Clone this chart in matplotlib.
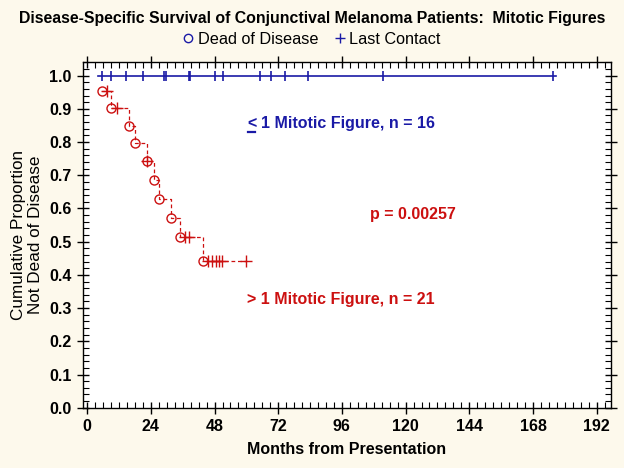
import matplotlib
matplotlib.use("Agg")
import matplotlib.pyplot as plt
from matplotlib.lines import Line2D
from matplotlib.ticker import MultipleLocator
import numpy as np

plt.rcParams['font.family'] = ['Liberation Sans', 'DejaVu Sans']

# ---- data (months) ----
# <=1 mitotic figure: all censored (last contact), survival stays 1.0
low_censor = [5.7, 8.8, 14.8, 21.2, 29.1, 29.6, 38.2, 38.7, 48.2, 51.3,
              65.2, 69.2, 74.4, 83.1, 111.6, 175.4]
low_line_start = 4.1
low_line_end = 176.8

# >1 mitotic figure
high_death = [5.4, 8.9, 15.7, 18.0, 22.4, 25.1, 26.9, 31.4, 34.9, 43.7]
high_censor = [7.3, 11.1, 22.4, 36.8, 38.3, 45.4, 46.9, 48.4, 49.6, 50.7, 59.8]

x_ticks = [0, 24, 48, 72, 96, 120, 144, 168, 192]
y_ticks = [0.0, 0.1, 0.2, 0.3, 0.4, 0.5, 0.6, 0.7, 0.8, 0.9, 1.0]

BLUE = '#1a1aa6'
RED = '#cc1010'
BG = '#fdf9ec'

# ---- Kaplan-Meier for the >1 group ----
events = sorted([(t, 1) for t in high_death] + [(t, 0) for t in high_censor],
                key=lambda e: (e[0], -e[1]))
at_risk = len(events)
s = 1.0
death_pts, cens_pts = [], []
for t, d in events:
    if d:
        s *= (at_risk - 1) / at_risk
        death_pts.append((t, s))
    else:
        cens_pts.append((t, s))
    at_risk -= 1
step_x = [p[0] for p in death_pts] + [max(high_censor)]
step_y = [p[1] for p in death_pts] + [death_pts[-1][1]]

fig = plt.figure(figsize=(6.24, 4.68), dpi=100, facecolor=BG)
ax = fig.add_axes([0.1325, 0.1288, 0.8462, 0.7387])
ax.set_facecolor('white')

# blue curve
ax.plot([low_line_start, low_line_end], [1.0, 1.0], color=BLUE, lw=1.2, zorder=3)
ax.plot(low_censor, [1.0] * len(low_censor), linestyle='none', marker='|',
        markersize=7, mew=1.2, color=BLUE, zorder=4)

# red curve
ax.step(step_x, step_y, where='post', color=RED, lw=0.9, dashes=(3, 2.2), zorder=3)
ax.plot([p[0] for p in death_pts], [p[1] for p in death_pts], linestyle='none',
        marker='o', markersize=6.5, mfc='none', mec=RED, mew=1.0, zorder=4)
ax.plot([p[0] for p in cens_pts], [p[1] for p in cens_pts], linestyle='none',
        marker='+', markersize=8, mew=1.0, color=RED, zorder=4)

ax.set_xlim(-1.7, 197.3)
ax.set_ylim(0, 1.041)
ax.set_xticks(x_ticks)
ax.set_yticks(y_ticks)
ax.set_yticklabels([f'{v:.1f}' for v in y_ticks])
ax.xaxis.set_minor_locator(MultipleLocator(3))
ax.yaxis.set_minor_locator(MultipleLocator(0.02))
ax.tick_params(which='major', direction='inout', length=8, width=1,
               top=True, right=True, labelsize=11.5, pad=4)
ax.tick_params(which='minor', direction='in', length=4, width=0.8,
               top=True, right=True)
for lab in ax.get_xticklabels() + ax.get_yticklabels():
    lab.set_fontweight('bold')
for sp in ax.spines.values():
    sp.set_linewidth(1.0)

ax.set_xlabel('Months from Presentation', fontsize=11.5, fontweight='bold', labelpad=6)
ax.set_ylabel('Cumulative Proportion\nNot Dead of Disease', fontsize=12.3,
              linespacing=1.15, labelpad=4.5)

fig.text(0.5, 1 - 18 / 468, 'Disease-Specific Survival of Conjunctival Melanoma Patients:  Mitotic Figures',
         ha='center', va='center', fontsize=11.4, fontweight='bold')

handles = [Line2D([], [], linestyle='none', marker='o', mfc='none', mec=BLUE,
                  markersize=6, mew=1.0),
           Line2D([], [], linestyle='none', marker='+', color=BLUE,
                  markersize=7, mew=1.0)]
fig.legend(handles, ['Dead of Disease', 'Last Contact'], loc='center',
           bbox_to_anchor=(0.5, 1 - 39 / 468), ncol=2, frameon=False,
           fontsize=11.7, handlelength=0.6, handletextpad=0.3, columnspacing=1.0)

lt = ax.text(60.2, 0.856, '<', color=BLUE, fontsize=11.5, fontweight='bold',
             ha='left', va='center')
ax.text(65.5, 0.856, '1 Mitotic Figure, n = 16', color=BLUE, fontsize=11.5,
        fontweight='bold', ha='left', va='center')
ax.text(106.6, 0.583, 'p = 0.00257', color=RED, fontsize=11.5, fontweight='bold',
        ha='left', va='center')
ax.text(60.2, 0.327, '> 1 Mitotic Figure, n = 21', color=RED, fontsize=11.5,
        fontweight='bold', ha='left', va='center')

# underline under "<" to form the "less than or equal" sign
fig.canvas.draw()
bb = lt.get_window_extent()
W, H = fig.bbox.width, fig.bbox.height
uy = bb.y0 - 1
fig.add_artist(Line2D([(bb.x0 + 1) / W, (bb.x1 - 1) / W], [uy / H, uy / H],
                      transform=fig.transFigure, color=BLUE, lw=1.6))

fig.savefig('out.png', dpi=100, facecolor=BG)
